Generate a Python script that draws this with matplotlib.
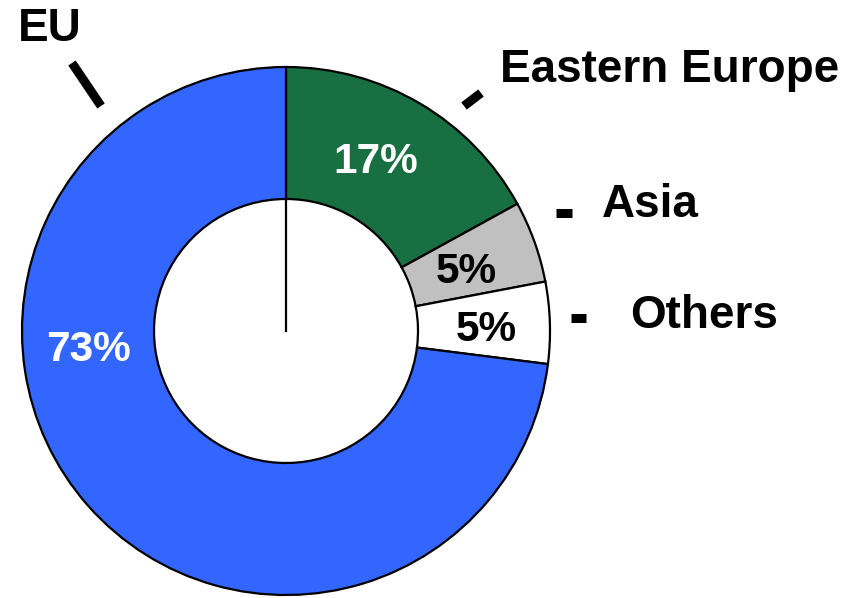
import numpy as np
import matplotlib
matplotlib.use("Agg")
import matplotlib.pyplot as plt

# data
regions = ["Eastern Europe", "Asia", "Others", "EU"]
shares = [17, 5, 5, 73]
colors = ["#176F42", "#C0C0C0", "#FFFFFF", "#3366FF"]
pct_colors = ["white", "black", "black", "white"]

plt.rcParams['font.family'] = ['Liberation Sans', 'DejaVu Sans']

W, H = 858, 598
fig = plt.figure(figsize=(W / 100, H / 100), dpi=100)
ax = fig.add_axes([0, 0, 1, 1])

# donut geometry in pixel units (y from bottom)
cx, cy = 286, H - 331
r_out, r_in = 264, 132

wedges, _ = ax.pie(shares, colors=colors, startangle=90, counterclock=False,
                   radius=r_out, center=(cx, cy),
                   wedgeprops=dict(width=r_out - r_in, edgecolor="black", linewidth=1.6))

# radial line in the hole at the start angle
ax.plot([cx, cx], [cy, cy + r_in], color="black", lw=1.6)

# percentage labels
pct_pos = [(376, 162), (466, 272), (486, 330), (88, 350)]
for s, c, (x, y) in zip(shares, pct_colors, pct_pos):
    ax.text(x, H - y, "%d%%" % s, color=c, fontsize=30.5, fontweight="bold",
            ha="center", va="center")

# region labels (left x, baseline y)
lab_pos = [(500, 82), (602, 217), (630, 328), (18, 41)]
for name, (x, y) in zip(regions, lab_pos):
    ax.text(x, H - y, name, fontsize=33, fontweight="bold", ha="left",
            va="baseline", color="black")

# short leader marks
leaders = [((464, 106), (481, 93)), ((556, 213), (572, 213)),
           ((571, 318), (586, 318)), ((72, 63), (101, 106))]
for (x0, y0), (x1, y1) in leaders:
    ax.plot([x0, x1], [H - y0, H - y1], color="black", lw=6.5, solid_capstyle="butt")

ax.set_xlim(0, W)
ax.set_ylim(0, H)
ax.set_aspect("equal")
ax.axis("off")

fig.savefig("out.png", dpi=100)
